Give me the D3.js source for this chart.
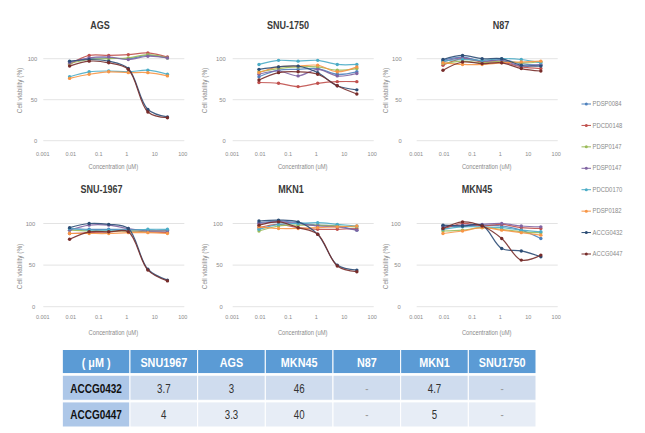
<!DOCTYPE html>
<html>
<head>
<meta charset="utf-8">
<script src="https://cdn.jsdelivr.net/npm/d3@7"></script>
<style>
  html, body { margin: 0; padding: 0; background: #fff; }
  svg { display: block; font-family: "Liberation Sans", Arial, sans-serif; }
</style>
</head>
<body>
<svg id="chart" width="645" height="433"></svg>
<script>
// ---------- data ----------
const concentrations = [0.008, 0.04, 0.2, 1, 5, 25];
const xTickValues = [0.001, 0.01, 0.1, 1, 10, 100];
const xTickLabels = ["0.001", "0.01", "0.1", "1", "10", "100"];
const yTickValues = [0, 50, 100];
const seriesNames = ["PDSP0084", "PDCD0148", "PDSP0147", "PDSP0147", "PDCD0170", "PDSP0182", "ACCG0432", "ACCG0447"];
const panelTitles = ["AGS", "SNU-1750", "N87", "SNU-1967", "MKN1", "MKN45"];

// values per panel, one row per series (same order as seriesNames)
const valuesAGS = [
  [96, 100, 101, 100, 104, 101],
  [93, 104, 104, 105, 107, 102],
  [94, 99, 100, 101, 105, 101],
  [95, 101, 102, 99, 103, 101],
  [78, 84, 85, 84, 86, 81],
  [76, 81, 84, 83, 83, 79],
  [97, 99, 97, 88, 38, 29],
  [91, 97, 95, 87, 35, 28]
];
const valuesSNU1750 = [
  [78, 86, 87, 88, 81, 84],
  [71, 70, 66, 70, 72, 72],
  [84, 88, 90, 90, 86, 88],
  [81, 85, 79, 87, 79, 82],
  [93, 98, 97, 98, 93, 93],
  [83, 90, 91, 92, 84, 90],
  [87, 90, 91, 83, 67, 62],
  [74, 83, 84, 81, 67, 57]
];
const valuesN87 = [
  [98, 102, 97, 99, 94, 92],
  [92, 100, 96, 96, 90, 88],
  [94, 97, 95, 97, 95, 96],
  [96, 101, 97, 98, 91, 93],
  [97, 99, 98, 100, 99, 95],
  [95, 93, 93, 95, 96, 97],
  [99, 104, 100, 100, 92, 91],
  [86, 96, 94, 95, 88, 85]
];
const valuesSNU1967 = [
  [94, 93, 93, 93, 92, 92],
  [88, 89, 90, 91, 90, 89],
  [92, 91, 91, 91, 91, 91],
  [92, 98, 98, 94, 91, 91],
  [94, 92, 92, 92, 93, 93],
  [88, 88, 88, 89, 89, 88],
  [95, 100, 99, 94, 45, 32],
  [81, 90, 90, 90, 44, 31]
];
const valuesMKN1 = [
  [101, 103, 101, 98, 97, 92],
  [95, 99, 95, 93, 93, 94],
  [91, 97, 98, 98, 97, 96],
  [100, 102, 100, 97, 96, 92],
  [93, 99, 100, 101, 99, 97],
  [96, 94, 94, 95, 96, 97],
  [103, 104, 102, 87, 50, 44],
  [98, 102, 95, 87, 49, 42]
];
const valuesMKN45 = [
  [96, 97, 98, 97, 92, 82],
  [93, 100, 97, 99, 95, 94],
  [91, 92, 95, 93, 90, 89],
  [97, 98, 99, 100, 97, 96],
  [93, 96, 96, 95, 92, 90],
  [88, 91, 95, 92, 89, 86],
  [98, 97, 98, 70, 67, 60],
  [94, 102, 97, 82, 56, 62]
];
const panelValues = [valuesAGS, valuesSNU1750, valuesN87, valuesSNU1967, valuesMKN1, valuesMKN45];

const tableHeader = ["( μM )", "SNU1967", "AGS", "MKN45", "N87", "MKN1", "SNU1750"];
const tableRowNames = ["ACCG0432", "ACCG0447"];
const tableValues = [
  ["3.7", "3", "46", "-", "4.7", "-"],
  ["4", "3.3", "40", "-", "5", "-"]
];

// ---------- styles / layout ----------
const seriesColors = ["#4F81BD", "#C0504D", "#9BBB59", "#8064A2", "#4BACC6", "#F79646", "#2C4D75", "#772C2A"];

const layout = [
  { x0: 44.3, x1: 184.3, y0: 140.7, k: 0.82, tx: 100, ty: 29, lab: 7, yt: 21.5, ytc: 90.5, xl: 156, xt: 169 },
  { x0: 233.7, x1: 373.7, y0: 140.7, k: 0.82, tx: 288, ty: 29, lab: 8, yt: 207, ytc: 90.5, xl: 156, xt: 169 },
  { x0: 417.7, x1: 557.7, y0: 140.7, k: 0.82, tx: 501, ty: 29, lab: 16, yt: 388, ytc: 90.5, xl: 156, xt: 169 },
  { x0: 44.3, x1: 184.3, y0: 306.7, k: 0.832, tx: 101.5, ty: 193, lab: 9, yt: 21.5, ytc: 266.5, xl: 319, xt: 335 },
  { x0: 233.7, x1: 373.7, y0: 306.7, k: 0.832, tx: 291, ty: 193, lab: 11, yt: 207, ytc: 266.5, xl: 319, xt: 335 },
  { x0: 417.7, x1: 557.7, y0: 306.7, k: 0.832, tx: 477, ty: 193, lab: 17, yt: 387.5, ytc: 266.5, xl: 319, xt: 335 }
];

const svg = d3.select("#chart");

function condensedText(g, x, y, str, sx) {
  return g.append("text")
    .attr("transform", `translate(${x},${y}) scale(${sx},1)`)
    .text(str);
}

panelTitles.forEach((title, pi) => {
  const L = layout[pi];
  const g = svg.append("g");
  const x = d3.scaleLog().domain([0.001, 100]).range([L.x0, L.x1]);
  const y = d3.scaleLinear().domain([0, 120]).range([L.y0, L.y0 - 120 * L.k]);

  // gridlines
  g.selectAll("line.grid").data(yTickValues).join("line")
    .attr("x1", L.x0 - 1).attr("x2", L.x1)
    .attr("y1", d => y(d)).attr("y2", d => y(d))
    .attr("stroke", "#dcdcdc").attr("stroke-width", 0.8);

  // y tick labels
  g.selectAll("text.yt").data(yTickValues).join("text")
    .attr("x", L.x0 - L.lab).attr("y", d => y(d) + 2)
    .attr("text-anchor", "end")
    .attr("font-size", 5.8).attr("fill", "#8a8a8a")
    .text(d => d);

  // x tick labels
  g.selectAll("text.xt").data(xTickValues).join("text")
    .attr("x", d => x(d) - 1.5).attr("y", L.xl)
    .attr("text-anchor", "middle")
    .attr("font-size", 5.5).attr("fill", "#8a8a8a")
    .text((d, i) => xTickLabels[i]);

  // axis titles
  condensedText(g, (L.x0 + L.x1) / 2 - 1, L.xt, "Concentration (uM)", 0.88)
    .attr("text-anchor", "middle").attr("font-size", 6.6).attr("fill", "#8a8a8a");
  g.append("text")
    .attr("transform", `translate(${L.yt},${L.ytc}) rotate(-90)`)
    .attr("text-anchor", "middle").attr("font-size", 6.4).attr("fill", "#8a8a8a")
    .text("Cell viability (%)");

  // title
  condensedText(g, L.tx, L.ty, title, 0.86)
    .attr("text-anchor", "middle").attr("font-size", 10.5)
    .attr("font-weight", "bold").attr("fill", "#3a3a3a");

  // series
  const line = d3.line()
    .x((d, i) => x(concentrations[i]))
    .y(d => y(d))
    .curve(d3.curveCatmullRom.alpha(0.5));
  panelValues[pi].forEach((vals, si) => {
    g.append("path").datum(vals)
      .attr("d", line)
      .attr("fill", "none")
      .attr("stroke", seriesColors[si])
      .attr("stroke-width", 1.2)
      .attr("stroke-opacity", 0.9);
    g.selectAll(null).data(vals).join("circle")
      .attr("cx", (d, i) => x(concentrations[i]))
      .attr("cy", d => y(d))
      .attr("r", 1.7)
      .attr("fill", seriesColors[si]);
  });
});

// ---------- legend ----------
const legY = d3.scaleLinear().domain([0, seriesNames.length - 1]).range([104, 254]);
const leg = svg.append("g");
seriesNames.forEach((name, i) => {
  const yy = legY(i);
  leg.append("line").attr("x1", 581.5).attr("x2", 591).attr("y1", yy).attr("y2", yy)
    .attr("stroke", seriesColors[i]).attr("stroke-width", 1);
  leg.append("circle").attr("cx", 586.3).attr("cy", yy).attr("r", 1.5).attr("fill", seriesColors[i]);
  condensedText(leg, 592.5, yy + 2.1, name, 0.92)
    .attr("font-size", 6.4).attr("fill", "#8a8a8a");
});

// ---------- table ----------
const colX = d3.scaleBand().domain(d3.range(tableHeader.length)).range([62.3, 536]);
const rowY = d3.scaleBand().domain([0, 1, 2]).range([348.5, 427]).paddingInner(0.06);
const tbl = svg.append("g");
const bodyFill = ["#cfdcee", "#e7edf6"];
const firstColFill = "#adc7e8";

// header
tableHeader.forEach((h, ci) => {
  tbl.append("rect")
    .attr("x", colX(ci)).attr("y", rowY(0) + 1)
    .attr("width", colX.bandwidth()).attr("height", rowY.bandwidth() - 1)
    .attr("fill", "#5b9bd5").attr("stroke", "#ffffff").attr("stroke-width", 1);
  condensedText(tbl, colX(ci) + colX.bandwidth() / 2, rowY(0) + rowY.bandwidth() / 2 + 5.5, h, 0.8)
    .attr("text-anchor", "middle").attr("font-size", 13.5)
    .attr("font-weight", "bold").attr("fill", "#ffffff");
});

// body
tableRowNames.forEach((rn, ri) => {
  const ry = rowY(ri + 1);
  tbl.append("rect")
    .attr("x", colX(0)).attr("y", ry)
    .attr("width", colX.bandwidth()).attr("height", rowY.bandwidth())
    .attr("fill", firstColFill).attr("stroke", "#ffffff").attr("stroke-width", 1);
  condensedText(tbl, colX(0) + colX.bandwidth() / 2, ry + rowY.bandwidth() / 2 + 5, rn, 0.74)
    .attr("text-anchor", "middle").attr("font-size", 13.5)
    .attr("font-weight", "bold").attr("fill", "#111111");
  tableValues[ri].forEach((v, vi) => {
    const ci = vi + 1;
    tbl.append("rect")
      .attr("x", colX(ci)).attr("y", ry)
      .attr("width", colX.bandwidth()).attr("height", rowY.bandwidth())
      .attr("fill", bodyFill[ri]).attr("stroke", "#ffffff").attr("stroke-width", 1);
    condensedText(tbl, colX(ci) + colX.bandwidth() / 2, ry + rowY.bandwidth() / 2 + 5, v, 0.72)
      .attr("text-anchor", "middle").attr("font-size", 13.5)
      .attr("fill", v === "-" ? "#9a9a9a" : "#333333");
  });
});
</script>
</body>
</html>
